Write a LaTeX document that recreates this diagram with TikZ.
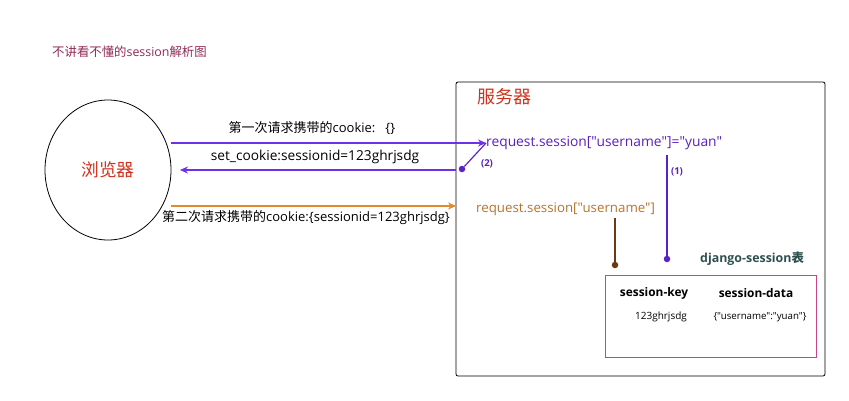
\documentclass[tikz,border=0pt]{standalone}
\usepackage{fontspec}
\setmainfont{Open Sans}[Ligatures=TeXOff]
\newfontfamily\cjk{Noto Sans CJK SC}
\usetikzlibrary{arrows.meta}
\definecolor{ttl}{HTML}{8E2A55}
\definecolor{redt}{HTML}{D0321E}
\definecolor{purp}{HTML}{7030E8}
\definecolor{purd}{HTML}{5A22C8}
\definecolor{purt}{HTML}{5A1FC0}
\definecolor{oran}{HTML}{E08A30}
\definecolor{orat}{HTML}{B8732A}
\definecolor{brn}{HTML}{6B3A10}
\definecolor{teal}{HTML}{2F4F4F}
\definecolor{pnk}{HTML}{CC4488}
\tikzset{
  x=1pt,y=-1pt,
  lbl/.style={inner sep=0pt,font=\fontsize{13}{15}\selectfont},
  conn/.style={line width=1.2pt,-{Stealth[length=8pt,width=7pt]}},
  dot/.style={circle,fill,inner sep=0pt,minimum size=6.5pt},
}
\begin{document}
\begin{tikzpicture}
\useasboundingbox (0,0) rectangle (849,400);
\node[lbl,anchor=west,text=ttl,font=\fontsize{12.4}{14}\selectfont] (title) at (52,52) {{\cjk 不讲看不懂的}session{\cjk 解析图}};
% browser
\draw[line width=0.8pt] (108,170) ellipse [x radius=63,y radius=70];
\node[lbl,text=redt,font=\cjk\fontsize{17.7}{19}\selectfont] (browser) at (108,170) {浏览器};
\coordinate (bR1) at (171,143);
\coordinate (bR2) at (180,170);
\coordinate (bR3) at (171,206);
% server
\draw[line width=0.8pt,rounded corners=2pt] (456,82) rectangle (825,376);
\node[lbl,anchor=west,text=redt,font=\cjk\fontsize{18}{20}\selectfont] (server) at (477,97) {服务器};
\coordinate (sL2) at (456,170);
\coordinate (sL3) at (456,206);
% texts in server
\node[lbl,anchor=west,text=purt,font=\fontsize{13.8}{15}\selectfont] (set) at (486,143) {request.session["username"]="yuan"};
\node[lbl,anchor=west,text=orat,font=\fontsize{13.3}{15}\selectfont] (get) at (476,209) {request.session["username"]};
% arrows
\draw[conn,purp] (bR1) -- (set.west);
\node[lbl] (l1) at (312,128) {{\cjk 第一次请求携带的}cookie:\hspace{10pt}\{\}};
\draw[conn,purp] (sL2) -- (bR2);
\node[lbl,font=\fontsize{13.7}{15}\selectfont] (l2) at (315,157) {set\_cookie:sessionid=123ghrjsdg};
\draw[conn,oran] (bR3) -- (sL3);
\node[lbl] (l3) at (306,218) {{\cjk 第二次请求携带的}cookie:\{sessionid=123ghrjsdg\}};
% (2)
\node[dot,purd] (d2) at (462,169) {};
\draw[purd,line width=1.2pt] (d2) -- (set.west);
\node[lbl,text=purt,font=\bfseries\fontsize{9.5}{11}\selectfont] (n2) at (487,164) {(2)};
% (1)
\node[dot,purd] (d1) at (667,259) {};
\coordinate (s1) at (667,155);
\draw[purd,line width=1.2pt] (s1) -- (d1);
\node[lbl,text=purt,font=\bfseries\fontsize{9.5}{11}\selectfont] (n1) at (677,172) {(1)};
% brown
\node[dot,brn] (d3) at (615,265) {};
\coordinate (s3) at (615,218);
\draw[brn,line width=1.2pt] (s3) -- (d3);
% table
\node[lbl,anchor=west,text=teal,font=\bfseries\fontsize{12.4}{14}\selectfont] (tname) at (700,259) {django-session{\cjk\bfseries 表}};
\draw[pnk,line width=1pt] (605,275) rectangle (816,357);
\node[lbl,font=\bfseries\fontsize{11.9}{13}\selectfont] (k) at (654,293) {session-key};
\node[lbl,font=\bfseries\fontsize{11.9}{13}\selectfont] (v) at (756,293) {session-data};
\node[lbl,font=\fontsize{10}{11}\selectfont] (kv) at (661,317) {123ghrjsdg};
\node[lbl,font=\fontsize{9.7}{11}\selectfont] (vv) at (760,317) {\{"username":"yuan"\}};
\end{tikzpicture}
\end{document}
